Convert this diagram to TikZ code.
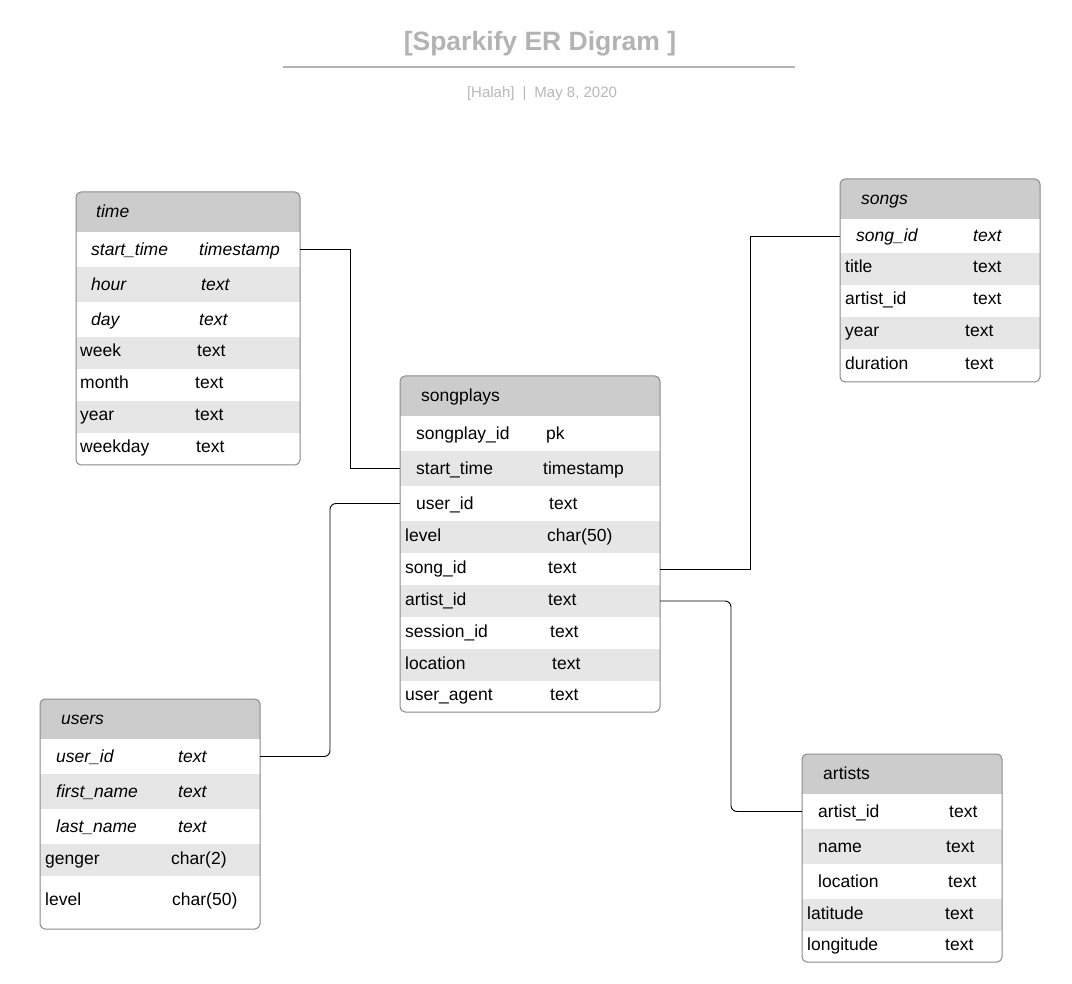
\documentclass[tikz,border=0pt]{standalone}
\usepackage{fontspec}
\setmainfont{Liberation Sans}
\definecolor{rg}{HTML}{E6E6E6}
\definecolor{hg}{HTML}{CCCCCC}
\definecolor{bd}{HTML}{8A8A8A}
\definecolor{tg}{HTML}{B3B3B3}
\definecolor{sg}{HTML}{B8B8B8}
\newcommand\cellfont{\fontsize{17.5}{21}\selectfont}
\tikzset{
  cell/.style={inner sep=0pt, font=\cellfont, text height=12.5pt, text depth=3.5pt},
  italic/.style={font=\cellfont\itshape},
  rowbox/.style={draw=none, inner sep=0pt, outer sep=0pt},
  hdrbox/.style={draw=none, fill=hg, inner sep=0pt, outer sep=0pt},
  border/.style={draw=bd, line width=1pt, rounded corners=5pt},
  link/.style={draw=black, line width=0.9pt},
}
% #1 name #2 y0 #3 h #4 fill #5 x1 #6 text1 #7 x2 #8 text2 #9 style
\newcommand\trow[9]{%
  \ifnum#3>40 \def\ys{2}\else\ifnum#3>33 \def\ys{-1.5}\else\def\ys{0.5}\fi\fi
  \node[rowbox, fill=#4, minimum width=\tw pt, minimum height=#3pt, anchor=north west] (#1) at (\tx,#2) {};
  \node[cell, #9, anchor=west, yshift=\ys pt] (#1-a) at (#5,{#2+#3/2}) {#6};
  \node[cell, #9, anchor=west, yshift=\ys pt] (#1-b) at (#7,{#2+#3/2}) {#8};
}
\newcommand\thead[5]{% #1 name #2 y0 #3 xtext #4 text #5 style
  \node[hdrbox, minimum width=\tw pt, minimum height=40pt, anchor=north west] (#1) at (\tx,#2) {};
  \node[cell, #5, anchor=west, yshift=-1pt] (#1-t) at (#3,{#2+20}) {#4};
}
\begin{document}
\begin{tikzpicture}[x=1pt,y=-1pt]
\useasboundingbox (0,0) rectangle (1072,984);
\fill[white] (0,0) rectangle (1072,984);

% title
\node[font=\fontsize{26.5}{30}\selectfont\bfseries, text=tg, inner sep=0pt] (title) at (540,43.5) {[Sparkify ER Digram ]};
\draw[tg, line width=2pt] (283,67) -- (795,67);
\node[font=\fontsize{15}{18}\selectfont, text=sg, inner sep=0pt] (sub) at (542,93.5) {[Halah]\hspace{8pt}|\hspace{8pt}May 8, 2020};

% time
\begin{scope}
\def\tx{76}\def\tw{224}
\clip[rounded corners=5pt] (76,192) rectangle (300,465);
\thead{th}{192}{96}{time}{italic}
\trow{t1}{232}{35}{white}{91}{start\_time}{199}{timestamp}{italic}
\trow{t2}{267}{35}{rg}{91}{hour}{201}{text}{italic}
\trow{t3}{302}{35}{white}{91}{day}{199}{text}{italic}
\trow{t4}{337}{32}{rg}{80}{week}{197}{text}{}
\trow{t5}{369}{32}{white}{80}{month}{195}{text}{}
\trow{t6}{401}{32}{rg}{80}{year}{195}{text}{}
\trow{t7}{433}{32}{white}{80}{weekday}{196}{text}{}
\end{scope}
\draw[border] (76,192) rectangle (300,465);

% songs
\begin{scope}
\def\tx{840}\def\tw{200}
\clip[rounded corners=5pt] (840,179) rectangle (1040,382);
\thead{sh}{179}{861}{songs}{italic}
\trow{s1}{219}{34}{white}{856}{song\_id}{973}{text}{italic}
\trow{s2}{253}{32}{rg}{845}{title}{973}{text}{}
\trow{s3}{285}{32}{white}{845}{artist\_id}{973}{text}{}
\trow{s4}{317}{32}{rg}{845}{year}{965}{text}{}
\trow{s5}{349}{33}{white}{845}{duration}{965}{text}{}
\end{scope}
\draw[border] (840,179) rectangle (1040,382);

% songplays
\begin{scope}
\def\tx{400}\def\tw{260}
\clip[rounded corners=5pt] (400,376) rectangle (660,712);
\thead{ph}{376}{421}{songplays}{}
\trow{p1}{416}{35}{white}{416}{songplay\_id}{546}{pk}{}
\trow{p2}{451}{35}{rg}{416}{start\_time}{543}{timestamp}{}
\trow{p3}{486}{35}{white}{416}{user\_id}{549}{text}{}
\trow{p4}{521}{32}{rg}{405}{level}{547}{char(50)}{}
\trow{p5}{553}{32}{white}{405}{song\_id}{548}{text}{}
\trow{p6}{585}{32}{rg}{405}{artist\_id}{548}{text}{}
\trow{p7}{617}{32}{white}{405}{session\_id}{550}{text}{}
\trow{p8}{649}{32}{rg}{405}{location}{552}{text}{}
\trow{p9}{681}{31}{white}{405}{user\_agent}{550}{text}{}
\end{scope}
\draw[border] (400,376) rectangle (660,712);

% users
\begin{scope}
\def\tx{40}\def\tw{220}
\clip[rounded corners=5pt] (40,699) rectangle (260,929);
\thead{uh}{699}{61}{users}{italic}
\trow{u1}{739}{35}{white}{56}{user\_id}{178}{text}{italic}
\trow{u2}{774}{35}{rg}{56}{first\_name}{178}{text}{italic}
\trow{u3}{809}{35}{white}{56}{last\_name}{178}{text}{italic}
\trow{u4}{844}{32}{rg}{45}{genger}{171}{char(2)}{}
\trow{u5}{876}{53}{white}{45}{level}{172}{char(50)}{}
\end{scope}
\draw[border] (40,699) rectangle (260,929);

% artists
\begin{scope}
\def\tx{802}\def\tw{200}
\clip[rounded corners=5pt] (802,754) rectangle (1002,962);
\thead{ah}{754}{823}{artists}{}
\trow{a1}{794}{35}{white}{818}{artist\_id}{949}{text}{}
\trow{a2}{829}{35}{rg}{818}{name}{946}{text}{}
\trow{a3}{864}{35}{white}{818}{location}{948}{text}{}
\trow{a4}{899}{32}{rg}{807}{latitude}{945}{text}{}
\trow{a5}{931}{31}{white}{807}{longitude}{945}{text}{}
\end{scope}
\draw[border] (802,754) rectangle (1002,962);

% connectors
\draw[link] (t1.east) -- ++(50,0) |- (p2.west);
\draw[link, rounded corners=6pt] (p3.west) -- ++(-70,0) |- (u1.east);
\draw[link] (p5.east) -- ++(90,0) |- (s1.west);
\draw[link, rounded corners=6pt] (p6.east) -- ++(71,0) |- (a1.west);
\end{tikzpicture}
\end{document}
